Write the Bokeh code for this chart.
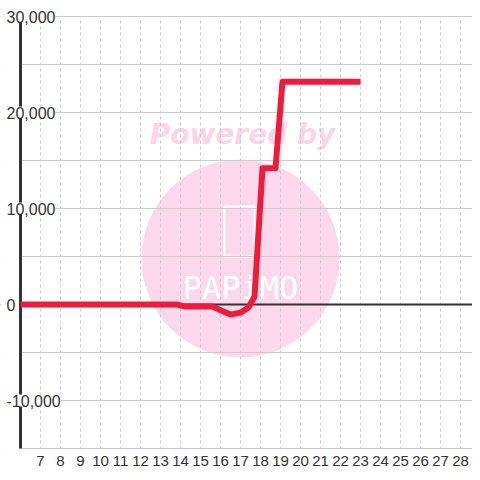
from bokeh.plotting import figure
from bokeh.models import (ColumnDataSource, FixedTicker, LabelSet, Span)
from bokeh.core.properties import value
from bokeh.embed import file_html
from bokeh.resources import INLINE

# ---- data ----
series_x = [6, 13.8, 14.2, 15.6, 16.0, 16.5, 17.0, 17.4, 17.7, 18.1, 18.75, 19.1, 23]
series_y = [0, 0, -200, -200, -600, -1050, -850, -300, 800, 14200, 14200, 23200, 23200]

x_ticks = list(range(7, 29))
y_grid_ticks = [-15000, -10000, -5000, 0, 5000, 10000, 15000, 20000, 25000, 30000]
y_label_values = [-10000, 0, 10000, 20000, 30000]
y_label_texts = ["-10,000", "0", "10,000", "20,000", "30,000"]

X_MIN, X_MAX = 6, 28.6
Y_MIN, Y_MAX = -15000, 30000

FONT = "Liberation Sans"
TXT = "#333333"

PX_X = 20.0           # pixels per x unit
PX_Y = 96.0 / 10000   # pixels per y unit
W, H = 472, 472
frame_h = 449
x_start = X_MIN - 20 / PX_X
y_end = Y_MAX + 16 / PX_Y
y_start = y_end - frame_h / PX_Y

p = figure(width=W, height=H, x_range=(x_start, X_MAX), y_range=(y_start, y_end),
           output_backend="svg", toolbar_location=None,
           min_border_left=0, min_border_right=0, min_border_top=0,
           min_border_bottom=H - frame_h)
p.outline_line_color = None
p.background_fill_color = "white"
p.border_fill_color = "white"
p.yaxis.visible = False

# grids
p.ygrid.ticker = FixedTicker(ticks=y_grid_ticks)
p.ygrid.grid_line_color = "#cccccc"
p.ygrid.grid_line_width = 1
p.xgrid.ticker = FixedTicker(ticks=x_ticks)
p.xgrid.grid_line_color = "#cccccc"
p.xgrid.grid_line_dash = "3 3"

# x axis
p.xaxis.ticker = FixedTicker(ticks=x_ticks)
p.xaxis.axis_line_color = None
p.xaxis.major_tick_line_color = None
p.xaxis.minor_tick_line_color = None
p.xaxis.major_label_text_font = FONT
p.xaxis.major_label_text_font_size = "15px"
p.xaxis.major_label_text_color = TXT
p.xaxis.major_label_standoff = 0

# watermark
pink = "#fcd8ec"
p.scatter(x=[17], y=[4792], size=198, marker="circle", fill_color=pink,
          line_color=None, level="image")
p.text(x=[17.1], y=[17708], text=["Powered by"], text_align="center",
       text_baseline="middle", text_font=value("DejaVu Sans"),
       text_font_size="28px", text_font_style="bold italic",
       text_color="#fcd4ea", level="image")
p.rect(x=[16.95], y=[7600], width=30, height=50, width_units="screen",
       height_units="screen", fill_color=None, line_color="white",
       line_width=2, level="image")
p.text(x=[17], y=[1667], text=["PAPiMO"], text_align="center",
       text_baseline="middle", text_font=value("DejaVu Sans Mono"),
       text_font_size="32px", text_color="white", level="image")

# zero line
zero = Span(location=0, dimension="width", line_color=TXT, line_width=2,
            level="underlay")
p.add_layout(zero)

# mask areas outside the plotting region (left of axis, above top)
p.quad(left=[x_start, x_start], right=[X_MIN - 0.02, X_MAX],
       bottom=[y_start, Y_MAX + 60], top=[y_end, y_end],
       fill_color="white", line_color=None)

# y axis line
p.segment(x0=[X_MIN], y0=[Y_MIN], x1=[X_MIN], y1=[Y_MAX + 400],
          line_color=TXT, line_width=3)

# series
p.line(series_x, series_y, line_width=6, line_color="#ee1c3a", line_join="round")

# y labels
lab_src = ColumnDataSource(dict(x=[X_MIN] * len(y_label_values), y=y_label_values,
                                text=y_label_texts))
labels = LabelSet(x="x", y="y", text="text", source=lab_src, x_offset=-14,
                  text_align="left", text_baseline="middle",
                  text_font=value(FONT), text_font_size="16px",
                  text_color=TXT, background_fill_color="white")
p.add_layout(labels)

open("out.html", "w").write(file_html(p, INLINE))
